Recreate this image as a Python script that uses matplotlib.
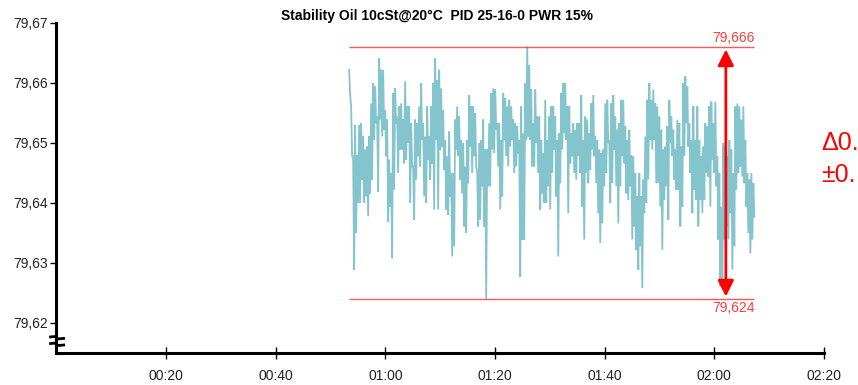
import numpy as np
import matplotlib
matplotlib.use("Agg")
import matplotlib.pyplot as plt
from matplotlib.ticker import FixedLocator, FuncFormatter

plt.rcParams['font.family'] = ['Liberation Sans', 'DejaVu Sans']

# ---- data (minutes since start, temperature in °C) ----
t_start = 53.4
t_end = 127.3

# local upper / lower values of the signal, one pair per short time slice
upper = [
    79.6622, 79.6561, 79.6478, 79.6530, 79.6480, 79.6530, 79.6533, 79.6511, 79.6489, 79.6494,
    79.6511, 79.6566, 79.6600, 79.6594, 79.6544, 79.6641, 79.6622, 79.6622, 79.6555, 79.6539,
    79.6472, 79.6450, 79.6583, 79.6591, 79.6544, 79.6561, 79.6566, 79.6539, 79.6603, 79.6561,
    79.6561, 79.6533, 79.6461,
    79.6539, 79.6533, 79.6561, 79.6600, 79.6533, 79.6511, 79.6561, 79.6511, 79.6561, 79.6600,
    79.6641, 79.6605, 79.6622, 79.6591, 79.6555, 79.6505, 79.6478, 79.6519, 79.6450, 79.6450,
    79.6539, 79.6561, 79.6544, 79.6505, 79.6500, 79.6461, 79.6505, 79.6580, 79.6561, 79.6561,
    79.6550, 79.6450, 79.6500, 79.6505,
    79.6539, 79.6489, 79.6489, 79.6533, 79.6583, 79.6591, 79.6589, 79.6533, 79.6533, 79.6505,
    79.6583, 79.6575, 79.6561, 79.6572, 79.6561, 79.6539, 79.6533, 79.6528, 79.6505, 79.6561,
    79.6516, 79.6600, 79.6661, 79.6630, 79.6589, 79.6533, 79.6589, 79.6544, 79.6544, 79.6505,
    79.6483, 79.6572, 79.6505, 79.6544,
    79.6561, 79.6561, 79.6544, 79.6505, 79.6516, 79.6583, 79.6600, 79.6600, 79.6561, 79.6561,
    79.6516, 79.6533, 79.6522, 79.6533, 79.6533, 79.6580, 79.6505, 79.6544, 79.6539, 79.6516,
    79.6566, 79.6580, 79.6511, 79.6505, 79.6489, 79.6483, 79.6489, 79.6566, 79.6572, 79.6505,
    79.6566, 79.6580, 79.6544, 79.6522,
    79.6533, 79.6572, 79.6572, 79.6528, 79.6505, 79.6522, 79.6480, 79.6478, 79.6450, 79.6411,
    79.6450, 79.6411, 79.6439, 79.6511, 79.6572, 79.6600, 79.6572, 79.6589, 79.6566, 79.6561,
    79.6544, 79.6522, 79.6489, 79.6494, 79.6528, 79.6572, 79.6544, 79.6522, 79.6489, 79.6539,
    79.6533, 79.6494, 79.6600, 79.6611,
    79.6594, 79.6533, 79.6505, 79.6561, 79.6505, 79.6561, 79.6505, 79.6478, 79.6494, 79.6533,
    79.6528, 79.6561, 79.6569, 79.6533, 79.6569, 79.6478, 79.6450, 79.6394, 79.6500, 79.6494,
    79.6478, 79.6505, 79.6489, 79.6450, 79.6561, 79.6566, 79.6561, 79.6539, 79.6561, 79.6505,
    79.6450, 79.6439, 79.6450, 79.6433,
]
lower = [
    79.6580, 79.6478, 79.6289, 79.6350, 79.6400, 79.6400, 79.6439, 79.6400, 79.6411, 79.6378,
    79.6416, 79.6439, 79.6505, 79.6533, 79.6419, 79.6539, 79.6511, 79.6522, 79.6478, 79.6369,
    79.6394, 79.6308, 79.6422, 79.6533, 79.6450, 79.6489, 79.6489, 79.6466, 79.6472, 79.6500,
    79.6400, 79.6461, 79.6372,
    79.6439, 79.6478, 79.6461, 79.6505, 79.6411, 79.6400, 79.6472, 79.6439, 79.6466, 79.6389,
    79.6505, 79.6389, 79.6489, 79.6494, 79.6455, 79.6389, 79.6380, 79.6411, 79.6311, 79.6328,
    79.6489, 79.6478, 79.6439, 79.6416, 79.6361, 79.6350, 79.6433, 79.6494, 79.6450, 79.6478,
    79.6461, 79.6361, 79.6372, 79.6428,
    79.6361, 79.6240, 79.6428, 79.6428, 79.6489, 79.6483, 79.6522, 79.6461, 79.6389, 79.6411,
    79.6505, 79.6478, 79.6461, 79.6494, 79.6505, 79.6450, 79.6461, 79.6483, 79.6277, 79.6339,
    79.6339, 79.6505, 79.6511, 79.6505, 79.6461, 79.6461, 79.6500, 79.6450, 79.6389, 79.6416,
    79.6400, 79.6400, 79.6428, 79.6389,
    79.6450, 79.6489, 79.6411, 79.6311, 79.6433, 79.6489, 79.6516, 79.6505, 79.6383, 79.6466,
    79.6478, 79.6450, 79.6439, 79.6478, 79.6450, 79.6394, 79.6339, 79.6450, 79.6433, 79.6455,
    79.6489, 79.6478, 79.6433, 79.6383, 79.6333, 79.6366, 79.6428, 79.6450, 79.6500, 79.6400,
    79.6433, 79.6489, 79.6428, 79.6366,
    79.6428, 79.6478, 79.6466, 79.6416, 79.6405, 79.6428, 79.6339, 79.6361, 79.6322, 79.6289,
    79.6328, 79.6258, 79.6383, 79.6400, 79.6439, 79.6505, 79.6489, 79.6505, 79.6433, 79.6433,
    79.6394, 79.6322, 79.6405, 79.6428, 79.6372, 79.6500, 79.6478, 79.6439, 79.6422, 79.6422,
    79.6361, 79.6394, 79.6478, 79.6533,
    79.6494, 79.6450, 79.6383, 79.6422, 79.6405, 79.6361, 79.6405, 79.6383, 79.6405, 79.6450,
    79.6444, 79.6394, 79.6472, 79.6450, 79.6428, 79.6339, 79.6261, 79.6261, 79.6339, 79.6361,
    79.6339, 79.6383, 79.6289, 79.6328, 79.6422, 79.6450, 79.6461, 79.6444, 79.6433, 79.6394,
    79.6350, 79.6316, 79.6339, 79.6377,
]

max_val = 79.666
min_val = 79.624
max_label = "79,666"
min_label = "79,624"
arrow_t = 122.1

title = "Stability Oil 10cSt@20°C  PID 25-16-0 PWR 15%"
y_ticks = [79.62, 79.63, 79.64, 79.65, 79.66, 79.67]
x_ticks = [20, 40, 60, 80, 100, 120, 140]

# ---- build series ----
vals = np.column_stack([upper, lower]).ravel()
times = np.linspace(t_start, t_end, len(vals))

W, H = 858, 385
fig = plt.figure(figsize=(W / 100, H / 100), dpi=100)
ax = fig.add_axes([56.3 / W, 32 / H, (824 - 56.3) / W, 330 / H])

line_col = '#84c4cd'
red = '#ff3b3b'

ax.plot(times, vals, color=line_col, lw=1.3, solid_joinstyle='miter')

ax.hlines([max_val, min_val], t_start, t_end, color=red, lw=1.0, alpha=0.85)
ax.text(t_end, max_val + 0.0004, max_label, color=red, ha='right', va='bottom', fontsize=10)
ax.text(t_end, min_val - 0.0004, min_label, color=red, ha='right', va='top', fontsize=10)

ax.annotate('', xy=(arrow_t, max_val - 0.0004), xytext=(arrow_t, min_val + 0.0004),
            arrowprops=dict(arrowstyle='<|-|>', color='red', lw=2, mutation_scale=24,
                            shrinkA=0, shrinkB=0))

fig.text(821 / W, 1 - 143 / H, "Δ0.", color='red', fontsize=18, ha='left', va='center')
fig.text(821 / W, 1 - 175 / H, "±0.", color='red', fontsize=18, ha='left', va='center')

ax.set_xlim(0, 140)
ax.set_ylim(79.615, 79.67)

for s in ['top', 'right']:
    ax.spines[s].set_visible(False)
for s in ['left', 'bottom']:
    ax.spines[s].set_linewidth(2.2)
    ax.spines[s].set_color('black')

ax.yaxis.set_major_locator(FixedLocator(y_ticks))
ax.yaxis.set_major_formatter(FuncFormatter(lambda v, p: f"{v:.2f}".replace('.', ',')))
ax.xaxis.set_major_locator(FixedLocator(x_ticks))
ax.xaxis.set_major_formatter(FuncFormatter(lambda v, p: f"{int(v) // 60:02d}:{int(v) % 60:02d}"))

ax.tick_params(axis='y', direction='out', length=4, width=1, labelsize=10, pad=2, colors='black')
ax.tick_params(axis='x', direction='inout', length=9, width=1, labelsize=10, pad=7, colors='black')
for lab in ax.get_xticklabels() + ax.get_yticklabels():
    lab.set_color('#222222')

# axis break marks on the y axis
for yb in [79.6175, 79.6164]:
    ax.plot([-1.3, -0.3, 0.4, 1.6], [yb + 0.00015, yb + 0.00025, yb - 0.00015, yb - 0.00005],
            color='black', lw=2, clip_on=False, solid_capstyle='butt')

ax.set_title(title, fontsize=10, fontweight='bold', pad=2, x=(437 - 56.3) / (824 - 56.3))

fig.savefig('out.png', dpi=100)
